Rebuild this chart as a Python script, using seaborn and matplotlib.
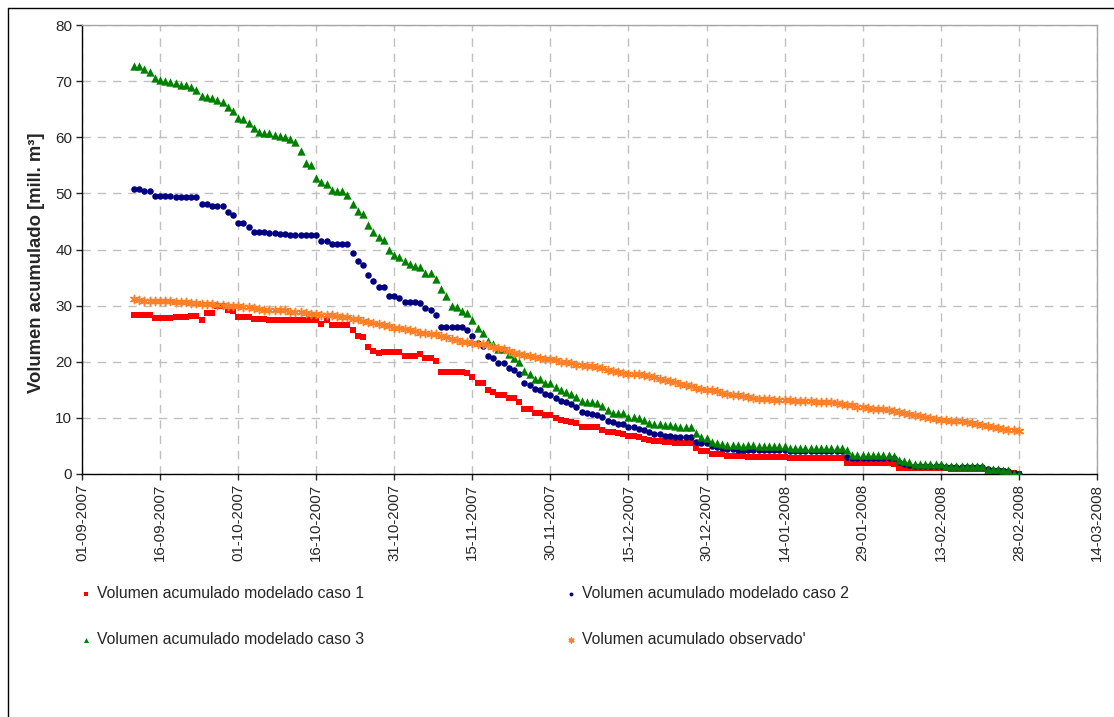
import matplotlib
matplotlib.use("Agg")
import matplotlib.pyplot as plt
import matplotlib.dates as mdates
from matplotlib import font_manager
from matplotlib.lines import Line2D
import numpy as np
import pandas as pd
import seaborn as sns

#-Daily series, 11-09-2007 .. 28-02-2008 (mill. m3)
caso1 = [28.4, 28.4, 28.4, 28.4, 27.8, 27.8, 27.8, 27.8, 28.0, 28.0,
         28.0, 28.2, 28.2, 27.5, 28.7, 28.7, 29.97, 29.9, 29.3, 29.1,
         28.0, 28.0, 28.0, 27.6, 27.6, 27.6, 27.4, 27.4, 27.4, 27.4,
         27.4, 27.4, 27.4, 27.4, 27.4, 27.4, 26.8, 27.35, 26.6, 26.6,
         26.6, 26.6,
         25.7, 24.6, 24.35, 22.6, 21.9, 21.55, 21.7, 21.7, 21.7, 21.7,
         21.1, 21.1, 21.1, 21.3, 20.6, 20.6, 20.2, 18.2, 18.2, 18.2,
         18.2, 18.2, 18.0, 17.3, 16.2, 16.2, 14.9, 14.6, 14.0, 14.0,
         13.5, 13.5, 12.9, 11.6, 11.6, 10.9, 10.9, 10.5,
         10.5, 10.05, 9.7, 9.45, 9.3, 9.0, 8.4, 8.4, 8.4, 8.4,
         7.9, 7.5, 7.5, 7.3, 7.1, 6.85, 6.85, 6.6, 6.3, 6.0,
         5.95, 5.95, 5.7, 5.7, 5.5, 5.5, 5.5, 5.5, 4.6, 4.0,
         4.0, 3.6, 3.6, 3.6, 3.2, 3.2, 3.2, 3.2, 3.05,
         3.0, 3.0, 3.0, 3.0, 3.0, 3.0, 3.0, 2.85, 2.85, 2.85,
         2.85, 2.85, 2.85, 2.85, 2.85, 2.85, 2.85, 2.85, 1.95, 1.95,
         1.95, 1.95, 1.95, 1.95, 1.95, 1.95, 1.95, 1.7, 1.1, 1.1,
         1.1, 1.0, 1.0, 1.0, 1.0, 1.0, 1.0, 1.0, 0.8, 0.8,
         0.8, 0.8, 0.8, 0.8, 0.8, 0.55, 0.5, 0.45, 0.45, 0.4,
         0.1, 0.0]

caso2 = [50.8, 50.8, 50.5, 50.5, 49.5, 49.5, 49.5, 49.5, 49.3, 49.3,
         49.3, 49.3, 49.3, 48.2, 48.2, 47.75, 47.75, 47.75, 46.6, 46.2,
         44.8, 44.65, 44.0, 43.1, 43.1, 43.1, 42.9, 42.9, 42.7, 42.7,
         42.5, 42.5, 42.5, 42.5, 42.5, 42.5, 41.6, 41.6, 40.9, 40.9,
         40.9, 40.9,
         39.35, 38.0, 37.3, 35.4, 34.3, 33.4, 33.4, 31.7, 31.7, 31.4,
         30.7, 30.7, 30.7, 30.5, 29.5, 29.2, 28.3, 26.2, 26.2, 26.2,
         26.2, 26.2, 25.7, 24.6, 23.3, 22.8, 21.1, 20.6, 19.8, 19.8,
         18.9, 18.6, 17.9, 16.25, 15.8, 15.1, 14.9, 14.2,
         14.1, 13.6, 13.0, 12.8, 12.4, 12.0, 11.0, 10.95, 10.7, 10.5,
         10.2, 9.5, 9.2, 8.9, 8.9, 8.4, 8.4, 8.0, 7.8, 7.5,
         7.1, 7.1, 6.85, 6.8, 6.6, 6.6, 6.6, 6.6, 5.7, 5.6,
         5.6, 4.9, 4.8, 4.6, 4.5, 4.4, 4.35, 4.35, 4.35,
         4.3, 4.3, 4.3, 4.3, 4.3, 4.3, 4.3, 4.1, 4.1, 4.1,
         4.1, 4.1, 4.1, 4.1, 4.1, 4.1, 4.1, 4.1, 3.0, 2.9,
         2.9, 2.9, 2.9, 2.9, 2.9, 2.9, 2.9, 2.9, 2.05, 1.8,
         1.65, 1.5, 1.5, 1.5, 1.5, 1.5, 1.5, 1.15, 1.15, 1.15,
         1.15, 1.15, 1.15, 1.15, 1.15, 0.8, 0.65, 0.65, 0.55, 0.5,
         0.2, 0.0]

caso3 = [72.7, 72.7, 72.1, 71.7, 70.65, 70.2, 70.0, 69.8, 69.6, 69.35,
         69.35, 68.9, 68.4, 67.4, 67.1, 67.0, 66.7, 66.3, 65.4, 64.7,
         63.4, 63.2, 62.6, 61.6, 61.0, 60.8, 60.7, 60.5, 60.2, 60.0,
         59.7, 59.1, 57.5, 55.4, 55.1, 52.7, 52.0, 51.6, 50.6, 50.5,
         50.5, 49.8,
         48.2, 46.9, 46.3, 44.3, 43.2, 42.3, 41.7, 39.9, 39.0, 38.6,
         37.9, 37.4, 37.1, 36.9, 35.8, 35.8, 34.8, 32.9, 31.7, 29.9,
         29.8, 29.0, 28.7, 27.5, 26.1, 25.2, 23.7, 23.2, 22.3, 22.2,
         21.3, 20.7, 19.9, 18.4, 17.8, 17.0, 17.0, 16.25,
         16.2, 15.5, 14.9, 14.6, 14.2, 13.75, 13.0, 12.85, 12.85, 12.6,
         12.1, 11.4, 10.95, 10.95, 10.9, 10.2, 10.2, 9.95, 9.7, 9.05,
         8.9, 8.9, 8.7, 8.7, 8.5, 8.4, 8.4, 8.4, 7.3, 6.5,
         6.4, 5.7, 5.5, 5.4, 5.2, 5.2, 5.1, 5.0, 5.1,
         5.1, 5.0, 5.0, 5.0, 5.0, 4.95, 4.95, 4.7, 4.7, 4.7,
         4.7, 4.7, 4.7, 4.7, 4.7, 4.7, 4.7, 4.7, 4.3, 3.4,
         3.3, 3.3, 3.3, 3.3, 3.3, 3.3, 3.3, 3.15, 2.45, 2.3,
         2.1, 1.8, 1.8, 1.8, 1.8, 1.8, 1.8, 1.5, 1.4, 1.4,
         1.4, 1.4, 1.4, 1.4, 1.4, 0.95, 0.85, 0.85, 0.7, 0.65,
         0.2, 0.0]

observado = [31.15, 31.03, 30.9, 30.9, 30.85, 30.74, 30.74, 30.74, 30.6, 30.56,
             30.56, 30.44, 30.44, 30.3, 30.26, 30.2, 30.08, 30.08, 30.02, 29.97,
             29.9, 29.8, 29.68, 29.56, 29.45, 29.3, 29.25, 29.2, 29.2, 29.14,
             28.9, 28.85, 28.8, 28.7, 28.55, 28.45, 28.4, 28.25, 28.25, 28.1,
             27.95, 27.9,
             27.7, 27.55, 27.25, 27.15, 26.9, 26.8, 26.55, 26.4, 26.1, 26.0,
             25.8, 25.65, 25.4, 25.2, 25.1, 25.0, 24.9, 24.6, 24.35, 24.1,
             23.9, 23.6, 23.5, 23.3, 23.2, 23.1, 22.9, 22.6, 22.4, 22.2,
             21.85, 21.6, 21.4, 21.2, 21.0, 20.8, 20.65, 20.5,
             20.4, 20.3, 20.0, 19.9, 19.7, 19.5, 19.4, 19.3, 19.2, 19.0,
             18.8, 18.6, 18.4, 18.2, 18.0, 17.9, 17.8, 17.8, 17.6, 17.4,
             17.2, 17.0, 16.8, 16.6, 16.3, 16.1, 15.9, 15.6, 15.4, 15.2,
             15.0, 14.9, 14.7, 14.5, 14.3, 14.15, 14.0, 13.9, 13.75,
             13.55, 13.4, 13.4, 13.4, 13.2, 13.2, 13.2, 13.15, 12.95, 12.95,
             12.95, 12.95, 12.9, 12.8, 12.8, 12.8, 12.65, 12.5, 12.35, 12.2,
             12.0, 11.9, 11.8, 11.65, 11.6, 11.6, 11.4, 11.3, 11.05, 10.8,
             10.7, 10.5, 10.3, 10.1, 9.95, 9.8, 9.7, 9.6, 9.5, 9.5,
             9.4, 9.2, 9.05, 8.9, 8.8, 8.6, 8.35, 8.2, 8.0, 7.9,
             7.75, 7.6]

fecha = pd.date_range("2007-09-11", periods=len(caso1), freq="D")

etiquetas = ["Volumen acumulado modelado caso 1",
             "Volumen acumulado modelado caso 2",
             "Volumen acumulado modelado caso 3",
             "Volumen acumulado observado'"]

#-Style
sns.set_style("white")
plt.rcParams["font.family"] = ["Liberation Sans", "DejaVu Sans"]

#-Narrow face for horizontal texts (picture looks squeezed sideways)
nombres = {f.name for f in font_manager.fontManager.ttflist}
if "Liberation Sans Narrow" in nombres:
    estrecha = ["Liberation Sans Narrow", "Liberation Sans"]
    fs_leg, fs_ytick, col_sp, lab_sp = 13.8, 12.0, 10.4, 1.44
else:
    estrecha = ["Liberation Sans", "DejaVu Sans"]
    fs_leg, fs_ytick, col_sp, lab_sp = 11.3, 11.0, 12.9, 1.96

fig = plt.figure(figsize=(11.14, 7.17), dpi=100)
ax = fig.add_axes([0.0736, 0.339, 0.911, 0.626])

sns.scatterplot(x=fecha, y=caso1, ax=ax, marker="s", color="#ff0000",
                s=18, linewidth=0, label=etiquetas[0], zorder=3)
sns.scatterplot(x=fecha, y=caso2, ax=ax, marker="o", color="#000080",
                s=22, linewidth=0, label=etiquetas[1], zorder=3)
sns.scatterplot(x=fecha, y=caso3, ax=ax, marker="^", color="#008000",
                s=36, linewidth=0, label=etiquetas[2], zorder=3)
sns.scatterplot(x=fecha, y=observado, ax=ax, marker=(6, 2, 0),
                color="#ff7f27", edgecolor="#ff7f27",
                s=34, linewidth=1.1, label=etiquetas[3], zorder=3)

#-Axes
ax.set_xlim(pd.Timestamp("2007-09-01"), pd.Timestamp("2008-03-14"))
ax.set_ylim(0, 80)
ax.set_xticks(pd.date_range("2007-09-01", "2008-03-14", freq="15D"))
ax.xaxis.set_major_formatter(mdates.DateFormatter("%d-%m-%Y"))
ax.set_yticks(np.arange(0, 81, 10))
ax.tick_params(axis="x", rotation=90, labelsize=10.8, length=4, width=1,
               direction="out", bottom=True, pad=3)
ax.tick_params(axis="y", labelsize=fs_ytick, length=4, width=1,
               direction="out", left=True, pad=3)
for t in ax.get_yticklabels():
    t.set_family(estrecha)
ax.grid(True, color="#c0c0c0", linestyle=(0, (6, 5)), linewidth=1)
for s in ["top", "right"]:
    ax.spines[s].set_color("#a6a6a6")
    ax.spines[s].set_linewidth(1)
for s in ["left", "bottom"]:
    ax.spines[s].set_color("black")
    ax.spines[s].set_linewidth(1)
ax.set_xlabel("")
ax.set_ylabel("Volumen acumulado [mill. m³]", fontsize=13.3,
              fontweight="bold")
ax.yaxis.set_label_coords(-0.036, 0.47)

#-Legend below the plot
h, l = ax.get_legend_handles_labels()
ax.get_legend().remove()
orden = [0, 2, 1, 3]
fig.legend([h[i] for i in orden], [l[i] for i in orden], ncol=2,
           loc="upper left", bbox_to_anchor=(0.060, 0.202),
           frameon=False, prop={"family": estrecha, "size": fs_leg},
           markerscale=0.6, handlelength=0.6, handletextpad=0.4,
           columnspacing=col_sp, labelspacing=lab_sp)

#-Chart border (only left and top edges are inside the picture)
fig.add_artist(Line2D([0.0072, 0.0072], [0.0, 0.989], color="black",
                      linewidth=1, transform=fig.transFigure))
fig.add_artist(Line2D([0.0072, 1.0], [0.989, 0.989], color="black",
                      linewidth=1, transform=fig.transFigure))

fig.savefig("out.png", dpi=100)
